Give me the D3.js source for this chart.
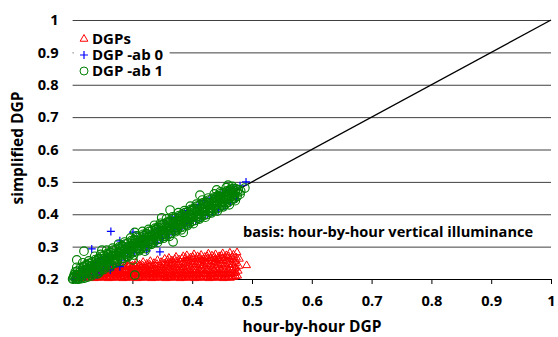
<!DOCTYPE html>
<html>
<head>
<meta charset="utf-8">
<script src="https://cdn.jsdelivr.net/npm/d3@7"></script>
<style>
  body { margin: 0; background: #fff; }
  svg { display: block; font-family: "Open Sans", sans-serif; font-weight: 700; }
</style>
</head>
<body>
<div id="chart"></div>
<script>
// axis ticks
const xTicks = [0.2, 0.3, 0.4, 0.5, 0.6, 0.7, 0.8, 0.9, 1];
const yTicks = [0.2, 0.3, 0.4, 0.5, 0.6, 0.7, 0.8, 0.9, 1];
const seriesNames = ["DGPs", "DGP -ab 0", "DGP -ab 1"];

// reference line y = x
const diagonal = [[0.2, 0.2], [1, 1]];

// DGPs (simplified, red triangles)
const dgps = [
  [0.206,0.203],[0.207,0.209],[0.208,0.214],
  [0.212,0.202],[0.213,0.210],[0.214,0.217],
  [0.218,0.204],[0.219,0.212],[0.220,0.220],
  [0.224,0.203],[0.225,0.211],[0.226,0.221],[0.227,0.226],
  [0.230,0.205],[0.231,0.214],[0.232,0.224],
  [0.236,0.202],[0.237,0.210],[0.238,0.219],[0.239,0.229],
  [0.242,0.204],[0.243,0.213],[0.244,0.223],[0.245,0.234],
  [0.248,0.203],[0.249,0.211],[0.250,0.220],[0.251,0.230],
  [0.254,0.205],[0.255,0.214],[0.256,0.224],[0.257,0.236],
  [0.260,0.202],[0.261,0.210],[0.262,0.219],[0.263,0.229],[0.264,0.238],
  [0.266,0.204],[0.267,0.213],[0.268,0.223],[0.269,0.233],
  [0.272,0.203],[0.273,0.211],[0.274,0.221],[0.275,0.232],[0.276,0.241],
  [0.278,0.205],[0.279,0.214],[0.280,0.225],[0.281,0.236],
  [0.284,0.202],[0.285,0.210],[0.286,0.220],[0.287,0.231],[0.288,0.243],
  [0.290,0.204],[0.291,0.213],[0.292,0.224],[0.293,0.236],[0.294,0.246],
  [0.296,0.203],[0.297,0.211],[0.298,0.222],[0.299,0.233],[0.300,0.241],
  [0.302,0.205],[0.303,0.215],[0.304,0.226],[0.305,0.238],[0.306,0.249],
  [0.308,0.202],[0.309,0.210],[0.310,0.220],[0.311,0.231],[0.312,0.244],
  [0.314,0.204],[0.315,0.213],[0.316,0.224],[0.317,0.236],[0.318,0.252],
  [0.320,0.203],[0.321,0.212],[0.322,0.223],[0.323,0.235],[0.324,0.247],
  [0.326,0.205],[0.327,0.215],[0.328,0.226],[0.329,0.239],[0.330,0.255],
  [0.332,0.202],[0.333,0.211],[0.334,0.221],[0.335,0.233],[0.336,0.249],
  [0.338,0.204],[0.339,0.214],[0.340,0.225],[0.341,0.238],[0.342,0.258],
  [0.344,0.203],[0.345,0.212],[0.346,0.223],[0.347,0.236],[0.348,0.252],
  [0.350,0.205],[0.351,0.215],[0.352,0.227],[0.353,0.241],[0.354,0.262],
  [0.356,0.202],[0.357,0.211],[0.358,0.222],[0.359,0.235],[0.360,0.250],[0.361,0.265],
  [0.362,0.204],[0.363,0.214],[0.364,0.226],[0.365,0.240],[0.366,0.257],
  [0.368,0.203],[0.369,0.212],[0.370,0.224],[0.371,0.237],[0.372,0.253],[0.373,0.268],
  [0.374,0.205],[0.375,0.215],[0.376,0.228],[0.377,0.242],[0.378,0.260],
  [0.380,0.202],[0.381,0.211],[0.382,0.223],[0.383,0.236],[0.384,0.251],[0.385,0.270],
  [0.386,0.204],[0.387,0.214],[0.388,0.226],[0.389,0.240],[0.390,0.257],[0.391,0.273],
  [0.392,0.203],[0.393,0.212],[0.394,0.224],[0.395,0.238],[0.396,0.254],[0.397,0.266],
  [0.398,0.205],[0.399,0.216],[0.400,0.229],[0.401,0.244],[0.402,0.262],[0.403,0.276],
  [0.404,0.202],[0.405,0.211],[0.406,0.223],[0.407,0.237],[0.408,0.253],[0.409,0.270],
  [0.410,0.204],[0.411,0.214],[0.412,0.227],[0.413,0.242],[0.414,0.259],[0.415,0.274],
  [0.416,0.203],[0.417,0.213],[0.418,0.225],[0.419,0.240],[0.420,0.256],[0.421,0.268],
  [0.422,0.205],[0.423,0.216],[0.424,0.229],[0.425,0.245],[0.426,0.263],[0.427,0.278],
  [0.428,0.202],[0.429,0.212],[0.430,0.224],[0.431,0.239],[0.432,0.255],[0.433,0.272],
  [0.434,0.204],[0.435,0.215],[0.436,0.228],[0.437,0.244],[0.438,0.261],[0.439,0.276],
  [0.440,0.203],[0.441,0.213],[0.442,0.226],[0.443,0.241],[0.444,0.258],[0.445,0.270],
  [0.446,0.205],[0.447,0.216],[0.448,0.230],[0.449,0.246],[0.450,0.264],[0.451,0.279],
  [0.452,0.202],[0.453,0.212],[0.454,0.225],[0.455,0.240],[0.456,0.257],[0.457,0.273],
  [0.458,0.204],[0.459,0.215],[0.460,0.229],[0.461,0.245],[0.462,0.262],[0.463,0.281],
  [0.464,0.203],[0.465,0.214],[0.466,0.227],[0.467,0.243],[0.468,0.260],[0.469,0.275],
  [0.470,0.206],[0.471,0.218],[0.472,0.232],[0.473,0.248],[0.474,0.266],[0.475,0.282],
  [0.476,0.210],[0.477,0.225],[0.478,0.240],[0.479,0.262],
  [0.491,0.242],
  // lower, denser part of the cloud
  [0.209,0.206],[0.209,0.211],[0.215,0.207],[0.215,0.214],[0.221,0.206],[0.221,0.216],
  [0.227,0.207],[0.227,0.217],[0.233,0.206],[0.233,0.216],[0.233,0.222],
  [0.239,0.207],[0.239,0.217],[0.239,0.225],[0.245,0.206],[0.245,0.216],[0.245,0.227],
  [0.251,0.207],[0.251,0.217],[0.251,0.228],[0.257,0.206],[0.257,0.216],[0.257,0.227],
  [0.263,0.207],[0.263,0.217],[0.263,0.228],[0.269,0.206],[0.269,0.216],[0.269,0.227],[0.269,0.237],
  [0.275,0.207],[0.275,0.217],[0.275,0.228],[0.281,0.206],[0.281,0.216],[0.281,0.227],[0.281,0.239],
  [0.287,0.207],[0.287,0.217],[0.287,0.228],[0.287,0.238],[0.293,0.206],[0.293,0.216],[0.293,0.227],[0.293,0.240],
  [0.299,0.207],[0.299,0.217],[0.299,0.228],[0.299,0.238],[0.305,0.206],[0.305,0.216],[0.305,0.227],[0.305,0.241],
  [0.311,0.207],[0.311,0.217],[0.311,0.228],[0.311,0.240],[0.317,0.206],[0.317,0.216],[0.317,0.227],[0.317,0.242],
  [0.323,0.207],[0.323,0.217],[0.323,0.228],[0.323,0.241],[0.329,0.206],[0.329,0.216],[0.329,0.227],[0.329,0.244],
  [0.335,0.207],[0.335,0.217],[0.335,0.228],[0.335,0.242],[0.341,0.206],[0.341,0.216],[0.341,0.227],[0.341,0.246],
  [0.347,0.207],[0.347,0.217],[0.347,0.228],[0.347,0.243],[0.353,0.206],[0.353,0.216],[0.353,0.227],[0.353,0.248],
  [0.359,0.207],[0.359,0.217],[0.359,0.228],[0.359,0.244],[0.359,0.258],
  [0.365,0.206],[0.365,0.216],[0.365,0.227],[0.365,0.249],
  [0.371,0.207],[0.371,0.217],[0.371,0.228],[0.371,0.246],[0.371,0.261],
  [0.377,0.206],[0.377,0.216],[0.377,0.227],[0.377,0.250],
  [0.383,0.207],[0.383,0.217],[0.383,0.228],[0.383,0.245],[0.383,0.263],
  [0.389,0.206],[0.389,0.216],[0.389,0.227],[0.389,0.249],[0.389,0.265],
  [0.395,0.207],[0.395,0.217],[0.395,0.228],[0.395,0.247],[0.395,0.260],
  [0.401,0.206],[0.401,0.216],[0.401,0.227],[0.401,0.252],[0.401,0.268],
  [0.407,0.207],[0.407,0.217],[0.407,0.228],[0.407,0.246],[0.407,0.262],
  [0.413,0.206],[0.413,0.216],[0.413,0.227],[0.413,0.250],[0.413,0.266],
  [0.419,0.207],[0.419,0.217],[0.419,0.228],[0.419,0.248],[0.419,0.262],
  [0.425,0.206],[0.425,0.216],[0.425,0.227],[0.425,0.253],[0.425,0.270],
  [0.431,0.207],[0.431,0.217],[0.431,0.228],[0.431,0.247],[0.431,0.264],
  [0.437,0.206],[0.437,0.216],[0.437,0.227],[0.437,0.252],[0.437,0.268],
  [0.443,0.207],[0.443,0.217],[0.443,0.228],[0.443,0.249],[0.443,0.264],
  [0.449,0.206],[0.449,0.216],[0.449,0.227],[0.449,0.254],[0.449,0.272],
  [0.455,0.207],[0.455,0.217],[0.455,0.228],[0.455,0.248],[0.455,0.266],
  [0.461,0.206],[0.461,0.216],[0.461,0.227],[0.461,0.253],[0.461,0.270],
  [0.467,0.207],[0.467,0.217],[0.467,0.228],[0.467,0.251],[0.467,0.268],
  [0.473,0.208],[0.473,0.220],[0.473,0.235],[0.473,0.256]
];

// DGP -ab 0 (blue plus), mostly hidden under the green band
const dgpAb0 = [
  [0.200,0.200],[0.203,0.214],[0.206,0.201],[0.210,0.226],[0.214,0.204],[0.218,0.232],
  [0.222,0.207],[0.226,0.240],[0.232,0.293],[0.234,0.214],[0.238,0.250],[0.241,0.212],
  [0.244,0.228],[0.248,0.262],[0.252,0.232],[0.258,0.270],[0.263,0.228],[0.264,0.347],
  [0.268,0.246],[0.272,0.284],[0.279,0.318],[0.279,0.238],[0.282,0.258],[0.288,0.300],
  [0.292,0.268],[0.298,0.312],[0.301,0.345],[0.304,0.282],[0.308,0.324],[0.313,0.300],
  [0.318,0.332],[0.324,0.287],[0.326,0.304],[0.332,0.346],[0.338,0.314],[0.341,0.311],
  [0.344,0.358],[0.346,0.284],[0.350,0.326],[0.356,0.372],[0.360,0.336],[0.366,0.386],
  [0.370,0.347],[0.374,0.392],[0.378,0.354],[0.384,0.404],[0.388,0.364],[0.392,0.412],
  [0.396,0.372],[0.402,0.424],[0.406,0.380],[0.410,0.430],[0.415,0.388],[0.420,0.442],
  [0.425,0.398],[0.430,0.450],[0.434,0.406],[0.440,0.458],[0.444,0.414],[0.450,0.466],
  [0.455,0.424],[0.460,0.474],[0.464,0.436],[0.470,0.480],[0.474,0.448],[0.480,0.488],
  [0.490,0.500]
];

// DGP -ab 1 (green circles)
const dgpAb1 = [
  [0.200,0.200],[0.201,0.201],[0.202,0.208],[0.203,0.214],
  [0.205,0.200],[0.206,0.203],[0.207,0.213],[0.208,0.224],
  [0.210,0.200],[0.211,0.206],[0.212,0.220],[0.213,0.233],
  [0.215,0.201],[0.216,0.211],[0.217,0.227],[0.218,0.238],
  [0.220,0.203],[0.221,0.217],[0.222,0.229],[0.223,0.245],
  [0.225,0.206],[0.226,0.222],[0.227,0.236],[0.228,0.248],
  [0.230,0.213],[0.231,0.225],[0.232,0.241],[0.233,0.253],
  [0.235,0.216],[0.236,0.232],[0.237,0.244],[0.238,0.260],
  [0.240,0.223],[0.241,0.235],[0.242,0.251],[0.243,0.263],
  [0.245,0.226],[0.246,0.242],[0.247,0.254],[0.248,0.270],
  [0.250,0.233],[0.251,0.245],[0.252,0.261],[0.253,0.273],
  [0.255,0.235],[0.256,0.251],[0.257,0.263],[0.258,0.279],
  [0.260,0.242],[0.261,0.254],[0.262,0.270],[0.263,0.282],
  [0.265,0.245],[0.266,0.261],[0.267,0.273],[0.268,0.289],
  [0.270,0.252],[0.271,0.264],[0.272,0.280],[0.273,0.292],
  [0.275,0.255],[0.276,0.271],[0.277,0.283],[0.278,0.299],
  [0.280,0.262],[0.281,0.274],[0.282,0.290],[0.283,0.302],
  [0.285,0.264],[0.286,0.280],[0.287,0.292],[0.288,0.308],
  [0.290,0.271],[0.291,0.283],[0.292,0.299],[0.293,0.311],
  [0.295,0.274],[0.296,0.290],[0.297,0.302],[0.298,0.318],
  [0.300,0.281],[0.301,0.293],[0.302,0.309],[0.303,0.321],
  [0.305,0.284],[0.306,0.300],[0.307,0.312],[0.308,0.328],
  [0.310,0.291],[0.311,0.303],[0.312,0.319],[0.313,0.331],
  [0.315,0.294],[0.316,0.310],[0.317,0.322],[0.318,0.338],
  [0.320,0.300],[0.321,0.312],[0.322,0.328],[0.323,0.340],
  [0.325,0.303],[0.326,0.319],[0.327,0.331],[0.328,0.347],
  [0.330,0.310],[0.331,0.322],[0.332,0.338],[0.333,0.350],
  [0.335,0.313],[0.336,0.329],[0.337,0.341],[0.338,0.357],
  [0.340,0.320],[0.341,0.332],[0.342,0.348],[0.343,0.360],
  [0.345,0.323],[0.346,0.339],[0.347,0.351],[0.348,0.367],
  [0.350,0.330],[0.351,0.342],[0.352,0.358],[0.353,0.370],
  [0.355,0.332],[0.356,0.348],[0.357,0.360],[0.358,0.376],
  [0.360,0.339],[0.361,0.351],[0.362,0.367],[0.363,0.379],
  [0.365,0.342],[0.366,0.358],[0.367,0.370],[0.368,0.386],
  [0.370,0.349],[0.371,0.361],[0.372,0.377],[0.373,0.389],
  [0.375,0.352],[0.376,0.368],[0.377,0.380],[0.378,0.396],
  [0.380,0.359],[0.381,0.371],[0.382,0.387],[0.383,0.399],
  [0.385,0.361],[0.386,0.377],[0.387,0.389],[0.388,0.405],
  [0.390,0.368],[0.391,0.380],[0.392,0.396],[0.393,0.408],
  [0.395,0.371],[0.396,0.387],[0.397,0.399],[0.398,0.415],
  [0.400,0.378],[0.401,0.390],[0.402,0.406],[0.403,0.418],
  [0.405,0.381],[0.406,0.397],[0.407,0.409],[0.408,0.425],
  [0.410,0.388],[0.411,0.400],[0.412,0.416],[0.413,0.428],
  [0.415,0.391],[0.416,0.407],[0.417,0.419],[0.418,0.435],
  [0.420,0.397],[0.421,0.409],[0.422,0.425],[0.423,0.437],
  [0.425,0.400],[0.426,0.416],[0.427,0.428],[0.428,0.444],
  [0.430,0.407],[0.431,0.419],[0.432,0.435],[0.433,0.447],
  [0.435,0.410],[0.436,0.426],[0.437,0.438],[0.438,0.454],
  [0.440,0.417],[0.441,0.429],[0.442,0.445],[0.443,0.457],
  [0.445,0.420],[0.446,0.436],[0.447,0.448],[0.448,0.464],
  [0.450,0.427],[0.451,0.439],[0.452,0.455],[0.453,0.467],
  [0.455,0.430],[0.456,0.445],[0.457,0.457],[0.458,0.472],
  [0.460,0.437],[0.461,0.448],[0.462,0.463],[0.463,0.475],
  [0.465,0.442],[0.466,0.455],[0.467,0.467],[0.468,0.480],
  [0.470,0.448],[0.471,0.459],[0.472,0.472],[0.473,0.478],
  [0.475,0.455],[0.476,0.466],[0.477,0.476],
  [0.480,0.462],[0.481,0.472],
  // middle of the band
  [0.2025,0.205],[0.2075,0.211],[0.2125,0.214],[0.2175,0.222],[0.2225,0.224],[0.2275,0.232],
  [0.2325,0.234],[0.2375,0.242],[0.2425,0.244],[0.2475,0.252],[0.2525,0.253],[0.2575,0.261],
  [0.2625,0.263],[0.2675,0.271],[0.2725,0.273],[0.2775,0.281],[0.2825,0.283],[0.2875,0.290],
  [0.2925,0.292],[0.2975,0.300],[0.3025,0.302],[0.3075,0.310],[0.3125,0.312],[0.3175,0.320],
  [0.3225,0.321],[0.3275,0.329],[0.3325,0.331],[0.3375,0.339],[0.3425,0.341],[0.3475,0.349],
  [0.3525,0.350],[0.3575,0.358],[0.3625,0.360],[0.3675,0.368],[0.3725,0.370],[0.3775,0.378],
  [0.3825,0.380],[0.3875,0.387],[0.3925,0.389],[0.3975,0.397],[0.4025,0.399],[0.4075,0.407],
  [0.4125,0.409],[0.4175,0.417],[0.4225,0.418],[0.4275,0.426],[0.4325,0.428],[0.4375,0.436],
  [0.4425,0.438],[0.4475,0.446],[0.4525,0.447],[0.4575,0.455],[0.4625,0.457],[0.4675,0.465],
  [0.4725,0.467],
  [0.2045,0.222],[0.2145,0.204],[0.2245,0.242],[0.2345,0.223],[0.2445,0.261],[0.2545,0.243],
  [0.2645,0.281],[0.2745,0.262],[0.2845,0.300],[0.2945,0.282],[0.3045,0.319],[0.3145,0.301],
  [0.3245,0.339],[0.3345,0.320],[0.3445,0.358],[0.3545,0.340],[0.3645,0.378],[0.3745,0.359],
  [0.3845,0.397],[0.3945,0.379],[0.4045,0.416],[0.4145,0.398],[0.4245,0.436],[0.4345,0.417],
  [0.4445,0.455],[0.4545,0.437],[0.4645,0.474],
  [0.2095,0.200],[0.2195,0.237],[0.2295,0.218],[0.2395,0.256],[0.2495,0.238],[0.2595,0.276],
  [0.2695,0.257],[0.2795,0.295],[0.2895,0.277],[0.2995,0.314],[0.3095,0.296],[0.3195,0.334],
  [0.3295,0.315],[0.3395,0.353],[0.3495,0.335],[0.3595,0.373],[0.3695,0.354],[0.3795,0.392],
  [0.3895,0.374],[0.3995,0.411],[0.4095,0.393],[0.4195,0.431],[0.4295,0.412],[0.4395,0.450],
  [0.4495,0.432],[0.4595,0.469],[0.4695,0.451],
  // upper edge of the band
  [0.207,0.236],[0.217,0.250],[0.227,0.256],[0.237,0.270],[0.247,0.276],[0.257,0.289],
  [0.267,0.295],[0.277,0.308],[0.287,0.314],[0.297,0.327],[0.307,0.333],[0.317,0.347],
  [0.327,0.353],[0.337,0.366],[0.347,0.372],[0.357,0.386],[0.367,0.392],[0.377,0.405],
  [0.387,0.411],[0.397,0.425],[0.407,0.431],[0.417,0.444],[0.427,0.450],[0.437,0.463],
  [0.447,0.469],[0.457,0.482],[0.467,0.486],
  // lower edge of the band
  [0.232,0.210],[0.242,0.216],[0.252,0.229],[0.262,0.235],[0.272,0.249],[0.282,0.255],
  [0.292,0.268],[0.302,0.274],[0.312,0.288],[0.322,0.294],[0.332,0.307],[0.342,0.313],
  [0.352,0.326],[0.362,0.332],[0.372,0.346],[0.382,0.352],[0.392,0.365],[0.402,0.371],
  [0.412,0.385],[0.422,0.391],[0.432,0.404],[0.442,0.410],[0.452,0.423],[0.462,0.429],
  [0.472,0.442],
  // stray points
  [0.207,0.259],[0.219,0.286],[0.244,0.219],[0.249,0.289],[0.301,0.259],[0.304,0.212],
  [0.304,0.344],[0.321,0.286],[0.349,0.389],[0.363,0.413],[0.368,0.315],[0.385,0.344],
  [0.413,0.459],[0.441,0.475],[0.460,0.490],[0.488,0.481]
];

const width = 558, height = 337,
      margin = ({ top: 20, right: 7, bottom: 58, left: 72.6 });

const svg = d3.select("#chart")
  .append("svg")
  .attr("width", width)
  .attr("height", height);

const x = d3.scaleLinear()
  .domain([0.2, 1])
  .range([margin.left, width - margin.right]);

const y = d3.scaleLinear()
  .domain([0.2, 1])
  .range([height - margin.bottom, margin.top]);

const fmt = d => d === 1 ? "1" : d3.format(".1f")(d);

// horizontal gridlines + y labels
const yAxis = svg.append("g")
  .attr("transform", `translate(${margin.left},0)`)
  .call(d3.axisLeft(y).tickValues(yTicks).tickFormat(fmt)
    .tickSize(-(width - margin.right - margin.left)).tickPadding(14));
yAxis.select(".domain").remove();
yAxis.selectAll(".tick line").attr("stroke", "#404040");
yAxis.selectAll(".tick text")
  .attr("fill", "#000")
  .attr("font-size", 14.6)
  .attr("font-weight", 700)
  .attr("font-family", "Open Sans, sans-serif");

// x axis
const xAxis = svg.append("g")
  .attr("transform", `translate(0,${y(0.2)})`)
  .call(d3.axisBottom(x).tickValues(xTicks).tickFormat(fmt).tickSize(5).tickPadding(12));
xAxis.select(".domain").attr("stroke", "#000");
xAxis.selectAll(".tick line").attr("stroke", "#000");
xAxis.selectAll(".tick text")
  .attr("fill", "#000")
  .attr("font-size", 14.6)
  .attr("font-weight", 700)
  .attr("font-family", "Open Sans, sans-serif");

// diagonal y = x
svg.append("path")
  .datum(diagonal)
  .attr("fill", "none")
  .attr("stroke", "#000")
  .attr("stroke-width", 1.4)
  .attr("d", d3.line().x(d => x(d[0])).y(d => y(d[1])));

const triangle = d3.symbol().type(d3.symbolTriangle).size(26)();
const plus = "M-4,0H4M0,-4V4";

svg.append("g")
  .selectAll("path")
  .data(dgps)
  .join("path")
  .attr("transform", d => `translate(${x(d[0])},${y(d[1])})`)
  .attr("d", triangle)
  .attr("fill", "none")
  .attr("stroke", "#ff0000")
  .attr("stroke-width", 1);

svg.append("g")
  .selectAll("path")
  .data(dgpAb0)
  .join("path")
  .attr("transform", d => `translate(${x(d[0])},${y(d[1])})`)
  .attr("d", plus)
  .attr("fill", "none")
  .attr("stroke", "#0000ff")
  .attr("stroke-width", 1.2);

svg.append("g")
  .selectAll("circle")
  .data(dgpAb1)
  .join("circle")
  .attr("cx", d => x(d[0]))
  .attr("cy", d => y(d[1]))
  .attr("r", 4.3)
  .attr("fill", "none")
  .attr("stroke", "#008000")
  .attr("stroke-width", 1.15);

// legend: white box hides the 0.9 gridline behind it
const legend = svg.append("g");
legend.append("rect")
  .attr("x", margin.left + 1).attr("y", 28)
  .attr("width", 96).attr("height", 52)
  .attr("fill", "#fff");
const legendRows = legend.selectAll("g")
  .data(seriesNames)
  .join("g")
  .attr("transform", (d, i) => `translate(84,${39 + i * 16})`);
legendRows.filter((d, i) => i === 0).append("path")
  .attr("d", triangle).attr("fill", "none").attr("stroke", "#ff0000");
legendRows.filter((d, i) => i === 1).append("path")
  .attr("d", plus).attr("fill", "none").attr("stroke", "#0000ff").attr("stroke-width", 1.2);
legendRows.filter((d, i) => i === 2).append("circle")
  .attr("r", 4).attr("fill", "none").attr("stroke", "#008000");
// one text block so the rows share a single box
legend.append("text")
  .attr("font-size", 15)
  .selectAll("tspan")
  .data(seriesNames)
  .join("tspan")
  .attr("x", 92)
  .attr("y", (d, i) => 44 + i * 16)
  .text(d => d);

// annotation
svg.append("text")
  .attr("x", 243)
  .attr("y", 237)
  .attr("font-size", 14.6)
  .text("basis: hour-by-hour vertical illuminance");

// axis titles
svg.append("text")
  .attr("x", 312)
  .attr("y", 332)
  .attr("text-anchor", "middle")
  .attr("font-size", 15.5)
  .text("hour-by-hour DGP");

svg.append("text")
  .attr("transform", "translate(23,148) rotate(-90)")
  .attr("text-anchor", "middle")
  .attr("font-size", 15.5)
  .text("simplified DGP");
</script>
</body>
</html>
